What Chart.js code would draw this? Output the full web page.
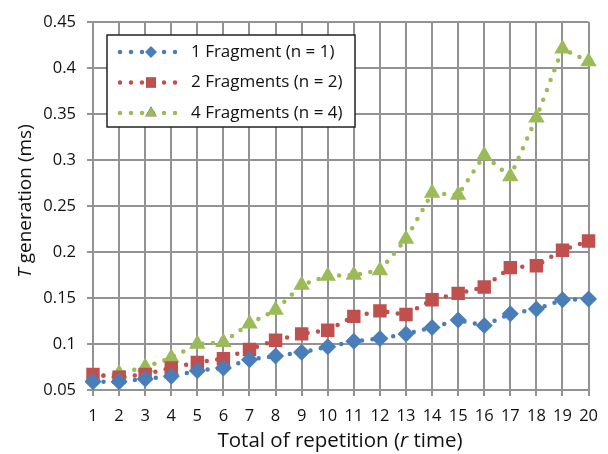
<!DOCTYPE html>
<html>
<head>
<meta charset="utf-8">
<script src="https://cdn.jsdelivr.net/npm/chart.js@4/dist/chart.umd.min.js"></script>
<style>
  html, body { margin: 0; padding: 0; background: #fff; }
  #wrap { width: 608px; height: 454px; }
</style>
</head>
<body>
<div id="wrap"><canvas id="c" width="608" height="454"></canvas></div>
<script>
// Repetition count r (1..20)
const repetitions = ['1','2','3','4','5','6','7','8','9','10','11','12','13','14','15','16','17','18','19','20'];

// T generation (ms) per fragment count
const oneFragment = [0.059, 0.059, 0.062, 0.065, 0.071, 0.074, 0.083, 0.087, 0.091, 0.097, 0.103, 0.106, 0.111, 0.118, 0.126, 0.120, 0.133, 0.138, 0.148, 0.149];
const twoFragments = [0.067, 0.064, 0.067, 0.074, 0.080, 0.084, 0.094, 0.104, 0.111, 0.115, 0.130, 0.136, 0.132, 0.148, 0.155, 0.162, 0.183, 0.185, 0.202, 0.212];
const fourFragments = [0.064, 0.068, 0.075, 0.085, 0.100, 0.102, 0.122, 0.137, 0.164, 0.174, 0.175, 0.180, 0.214, 0.264, 0.262, 0.305, 0.282, 0.346, 0.421, 0.407];

const seriesNames = ['1 Fragment (n = 1)', '2 Fragments (n = 2)', '4 Fragments (n = 4)'];
const yTicks = [0.05, 0.1, 0.15, 0.2, 0.25, 0.3, 0.35, 0.4, 0.45];

const FONT = '"Open Sans", "DejaVu Sans", sans-serif';
const BLUE = '#4a7ebb', RED = '#c0504d', GREEN = '#9bbb59';
const GRID = '#939393';

function series(label, data, color, style, radius, legendRadius) {
  return {
    label, data, legendRadius,
    borderColor: color, backgroundColor: color,
    borderWidth: 4.5, borderDash: [0, 10.5], borderCapStyle: 'round',
    pointStyle: style, pointRadius: radius, pointHoverRadius: radius,
    pointBorderWidth: 0, pointBackgroundColor: color,
    tension: 0, fill: false
  };
}

// Boxed legend inside the plot area, drawn from the dataset styles
const boxLegend = {
  id: 'boxLegend',
  afterDraw(chart) {
    const ctx = chart.ctx;
    const x0 = 107, y0 = 35, w = 248, h = 92;
    ctx.save();
    ctx.fillStyle = '#fff';
    ctx.fillRect(x0, y0, w, h);
    ctx.strokeStyle = '#222';
    ctx.lineWidth = 1.5;
    ctx.strokeRect(x0, y0, w, h);
    chart.data.datasets.forEach((ds, i) => {
      const y = 52 + i * 30.5;
      ctx.save();
      ctx.strokeStyle = ds.borderColor;
      ctx.lineWidth = 4.5;
      ctx.lineCap = 'round';
      ctx.setLineDash([0, 11]);
      ctx.beginPath();
      ctx.moveTo(120, y);
      ctx.lineTo(178, y);
      ctx.stroke();
      ctx.restore();
      Chart.helpers.drawPoint(ctx, {
        pointStyle: ds.pointStyle, radius: ds.legendRadius, rotation: 0, borderWidth: 0
      }, 151, y);
      ctx.fillStyle = ds.pointBackgroundColor;
      ctx.fill();
      ctx.fillStyle = '#111';
      ctx.font = '17px ' + FONT;
      ctx.textBaseline = 'middle';
      ctx.textAlign = 'left';
      ctx.fillText(ds.label, 191, y);
    });
    ctx.restore();
  }
};

// Axis titles with an italic variable name
function drawMixed(ctx, parts, size) {
  let total = 0;
  parts.forEach(p => { ctx.font = (p.it ? 'italic ' : '') + size + 'px ' + FONT; p.w = ctx.measureText(p.t).width; total += p.w; });
  let x = -total / 2;
  parts.forEach(p => { ctx.font = (p.it ? 'italic ' : '') + size + 'px ' + FONT; ctx.fillText(p.t, x, 0); x += p.w; });
}
const axisTitles = {
  id: 'axisTitles',
  afterDraw(chart) {
    const ctx = chart.ctx;
    ctx.save();
    ctx.fillStyle = '#111';
    ctx.textBaseline = 'middle';
    ctx.textAlign = 'left';
    ctx.translate(340, 441);
    drawMixed(ctx, [{t: 'Total of repetition ('}, {t: 'r', it: true}, {t: ' time)'}], 20.5);
    ctx.restore();
    ctx.save();
    ctx.fillStyle = '#111';
    ctx.textBaseline = 'middle';
    ctx.textAlign = 'left';
    ctx.translate(26, 201);
    ctx.rotate(-Math.PI / 2);
    drawMixed(ctx, [{t: 'T', it: true}, {t: ' generation (ms)'}], 19);
    ctx.restore();
  }
};

new Chart(document.getElementById('c'), {
  type: 'line',
  data: {
    labels: repetitions,
    datasets: [
      series(seriesNames[0], oneFragment, BLUE, 'rectRot', 8.5, 6),
      series(seriesNames[1], twoFragments, RED, 'rect', 9.5, 7),
      series(seriesNames[2], fourFragments, GREEN, 'triangle', 9.5, 6.5)
    ]
  },
  options: {
    responsive: false,
    animation: false,
    devicePixelRatio: 1,
    layout: { padding: { left: 0, right: 18, top: 22, bottom: 0 } },
    plugins: { legend: { display: false }, tooltip: { enabled: false } },
    scales: {
      x: {
        offset: false,
        grid: { color: GRID, lineWidth: 2, tickLength: 6, drawTicks: true },
        border: { color: GRID, width: 2 },
        ticks: { color: '#111', font: { family: FONT, size: 16.5 }, padding: 10, maxRotation: 0, autoSkip: false },
        afterFit(s) { s.height = 64; }
      },
      y: {
        min: 0.05, max: 0.45,
        grid: { color: GRID, lineWidth: 2, tickLength: 6 },
        border: { color: GRID, width: 2 },
        afterBuildTicks(s) { s.ticks = yTicks.map(v => ({ value: v })); },
        ticks: { color: '#111', font: { family: FONT, size: 16.5 }, padding: 11,
                 callback: v => String(+v.toFixed(2)) },
        afterFit(s) { s.width = 93; }
      }
    }
  },
  plugins: [boxLegend, axisTitles]
});
</script>
</body>
</html>
